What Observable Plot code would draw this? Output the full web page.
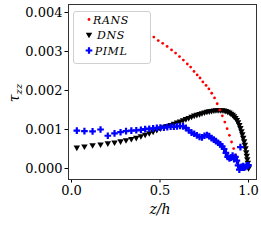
<!DOCTYPE html>
<html><head><meta charset="utf-8">
<script src="https://cdn.jsdelivr.net/npm/d3@7"></script>
<script src="https://cdn.jsdelivr.net/npm/@observablehq/plot@0.6"></script>
<style>body{margin:0;background:#fff} svg text{font-family:"DejaVu Serif","Liberation Serif","Times New Roman",serif !important;}</style>
</head><body><div id="chart"></div>
<script>
const seriesNames = ["RANS", "DNS", "PIML"];
const seriesColors = ["#ff0000", "#000000", "#0000ff"];
const xTicks = [0, 0.5, 1.0];
const yTicks = [0, 0.001, 0.002, 0.003, 0.004];

const ransX = [0.465,0.49,0.515,0.54,0.565,0.588,0.61,0.632,0.654,0.673,0.692,0.71,0.726,0.742,0.76,0.776,0.792,0.808,0.823,0.838,0.852,0.866,0.879,0.892,0.904,0.916,0.927,0.938,0.948,0.955];
const ransY = [0.00337,0.00328,0.00321,0.00313,0.00304,0.00296,0.00287,0.00278,0.00268,0.00260,0.00249,0.00240,0.00232,0.00222,0.00213,0.00204,0.00193,0.00181,0.00166,0.00150,0.00135,0.00119,0.00102,0.00085,0.00068,0.00051,0.00034,0.00018,0.00004,-0.00003];

const dnsX = [0.03,0.073,0.119,0.164,0.205,0.243,0.277,0.308,0.338,0.366,0.392,0.416,0.439,0.461,0.482,0.502,0.522,0.541,0.560,0.578,0.596,0.613,0.630,0.646,0.662,0.678,0.693,0.708,0.723,0.737,0.751,0.765,0.778,0.791,0.804,0.816,0.828,0.840,0.851,0.862,0.872,0.882,0.892,0.901,0.910,0.918,0.926,0.934,0.941,0.948,0.954,0.960,0.965,0.970,0.975,0.979,0.983,0.987,0.990,0.993,0.996,0.998,1.000];
const dnsY = [0.00054,0.00057,0.00060,0.00062,0.00065,0.00067,0.00070,0.00073,0.00076,0.00079,0.00083,0.00087,0.00091,0.00095,0.00099,0.00103,0.00106,0.00109,0.00112,0.00115,0.00118,0.00121,0.00124,0.00127,0.00130,0.00133,0.00136,0.00138,0.00140,0.00142,0.00144,0.00146,0.00147,0.00148,0.00149,0.00150,0.00150,0.00150,0.00150,0.00149,0.00148,0.00146,0.00144,0.00141,0.00138,0.00134,0.00130,0.00125,0.00119,0.00112,0.00104,0.00096,0.00088,0.00079,0.00070,0.00061,0.00052,0.00042,0.00033,0.00024,0.00015,0.00007,0.00001];

const pimlX = [0.030,0.073,0.119,0.164,0.205,0.243,0.277,0.308,0.338,0.366,0.392,0.416,0.439,0.461,0.482,0.502,0.522,0.541,0.560,0.578,0.596,0.613,0.630,0.646,0.662,0.678,0.693,0.708,0.723,0.737,0.751,0.765,0.778,0.791,0.804,0.816,0.828,0.840,0.851,0.862,0.872,0.882,0.892,0.901,0.910,0.918,0.926,0.934,0.941,0.948,0.954,0.960,0.965,0.970,0.975,0.983,0.990,1.000];
const pimlY = [0.00097,0.00096,0.00095,0.00100,0.00084,0.00090,0.00093,0.00096,0.00097,0.00098,0.00099,0.00101,0.00102,0.00103,0.00104,0.00105,0.00105,0.00106,0.00107,0.00107,0.00108,0.00109,0.00108,0.00104,0.00098,0.00092,0.00089,0.00085,0.00081,0.00080,0.00084,0.00086,0.00083,0.00078,0.00074,0.00070,0.00066,0.00062,0.00057,0.00050,0.00040,0.00030,0.00026,0.00028,0.00033,0.00024,0.00030,0.00020,0.00008,-0.00003,0.00055,0.00004,0.00002,0.00006,0.00002,0.00004,0.00008,0.00008];

const rans = ransX.map((x, i) => ({x, y: ransY[i]}));
const dns = dnsX.map((x, i) => ({x, y: dnsY[i]}));
const piml = pimlX.map((x, i) => ({x, y: pimlY[i]}));

const triDown = {
  draw(ctx, size) {
    const s3 = Math.sqrt(3);
    const y = -Math.sqrt(size / (s3 * 3));
    ctx.moveTo(0, -y * 2);
    ctx.lineTo(-s3 * y, y);
    ctx.lineTo(s3 * y, y);
    ctx.closePath();
  }
};
const rR = 1.4, rD = 2.4, rP = 2.8;

const plot = Plot.plot({
  width: 261, height: 243,
  marginLeft: 68, marginRight: 5, marginTop: 4, marginBottom: 64,
  x: {domain: [-0.017, 1.045]},
  y: {domain: [-0.000282, 0.004205]},
  style: {fontSize: "13px", color: "#000", background: "#fff", overflow: "visible"},
  marks: [
    Plot.axisX({ticks: xTicks, tickFormat: d3.format(".1f"), tickSize: 3.5, tickPadding: 3, label: null}),
    Plot.axisY({ticks: yTicks, tickFormat: d3.format(".3f"), tickSize: 3.5, tickPadding: 2.5, label: null}),
    Plot.dot(dns, {x: "x", y: "y", symbol: triDown, fill: seriesColors[1], stroke: null, r: rD}),
    Plot.dot(rans, {x: "x", y: "y", symbol: "circle", fill: seriesColors[0], stroke: null, r: rR}),
    Plot.dot(piml, {x: "x", y: "y", symbol: "cross", fill: seriesColors[2], stroke: null, r: rP}),
    Plot.frame({stroke: "#333", strokeWidth: 1})
  ]
});
document.getElementById("chart").appendChild(plot);

const svg = d3.select(plot);
svg.append("text").attr("x", 160).attr("y", 214).attr("text-anchor", "middle")
  .attr("font-style", "italic").attr("font-size", 14)
  .text("z/h");
const yl = svg.append("text").attr("transform", "translate(19,93) rotate(-90)").attr("text-anchor", "middle")
  .attr("font-style", "italic").attr("font-size", 14);
yl.append("tspan").text("τ");
yl.append("tspan").attr("font-size", 10).attr("dy", 3).text("zz");

const lg = svg.append("g");
lg.append("rect").attr("x", 73.5).attr("y", 11.5).attr("width", 77).attr("height", 52).attr("rx", 2.5)
  .attr("fill", "#fff").attr("fill-opacity", 0.85).attr("stroke", "#d0d0d0");
const ly = [19.5, 34.5, 50.5];
const sym = [d3.symbol(d3.symbolCircle, Math.PI * rR * rR), d3.symbol(triDown, Math.PI * rD * rD), d3.symbol(d3.symbolCross, Math.PI * rP * rP)];
seriesNames.forEach((name, i) => {
  lg.append("path").attr("d", sym[i]()).attr("transform", `translate(89,${ly[i]})`).attr("fill", seriesColors[i]);
  lg.append("text").attr("x", 111).attr("y", ly[i] + 4.5)
    .attr("font-style", "italic").attr("font-size", 11).attr("letter-spacing", 0.6).text(name);
});
</script></body></html>
